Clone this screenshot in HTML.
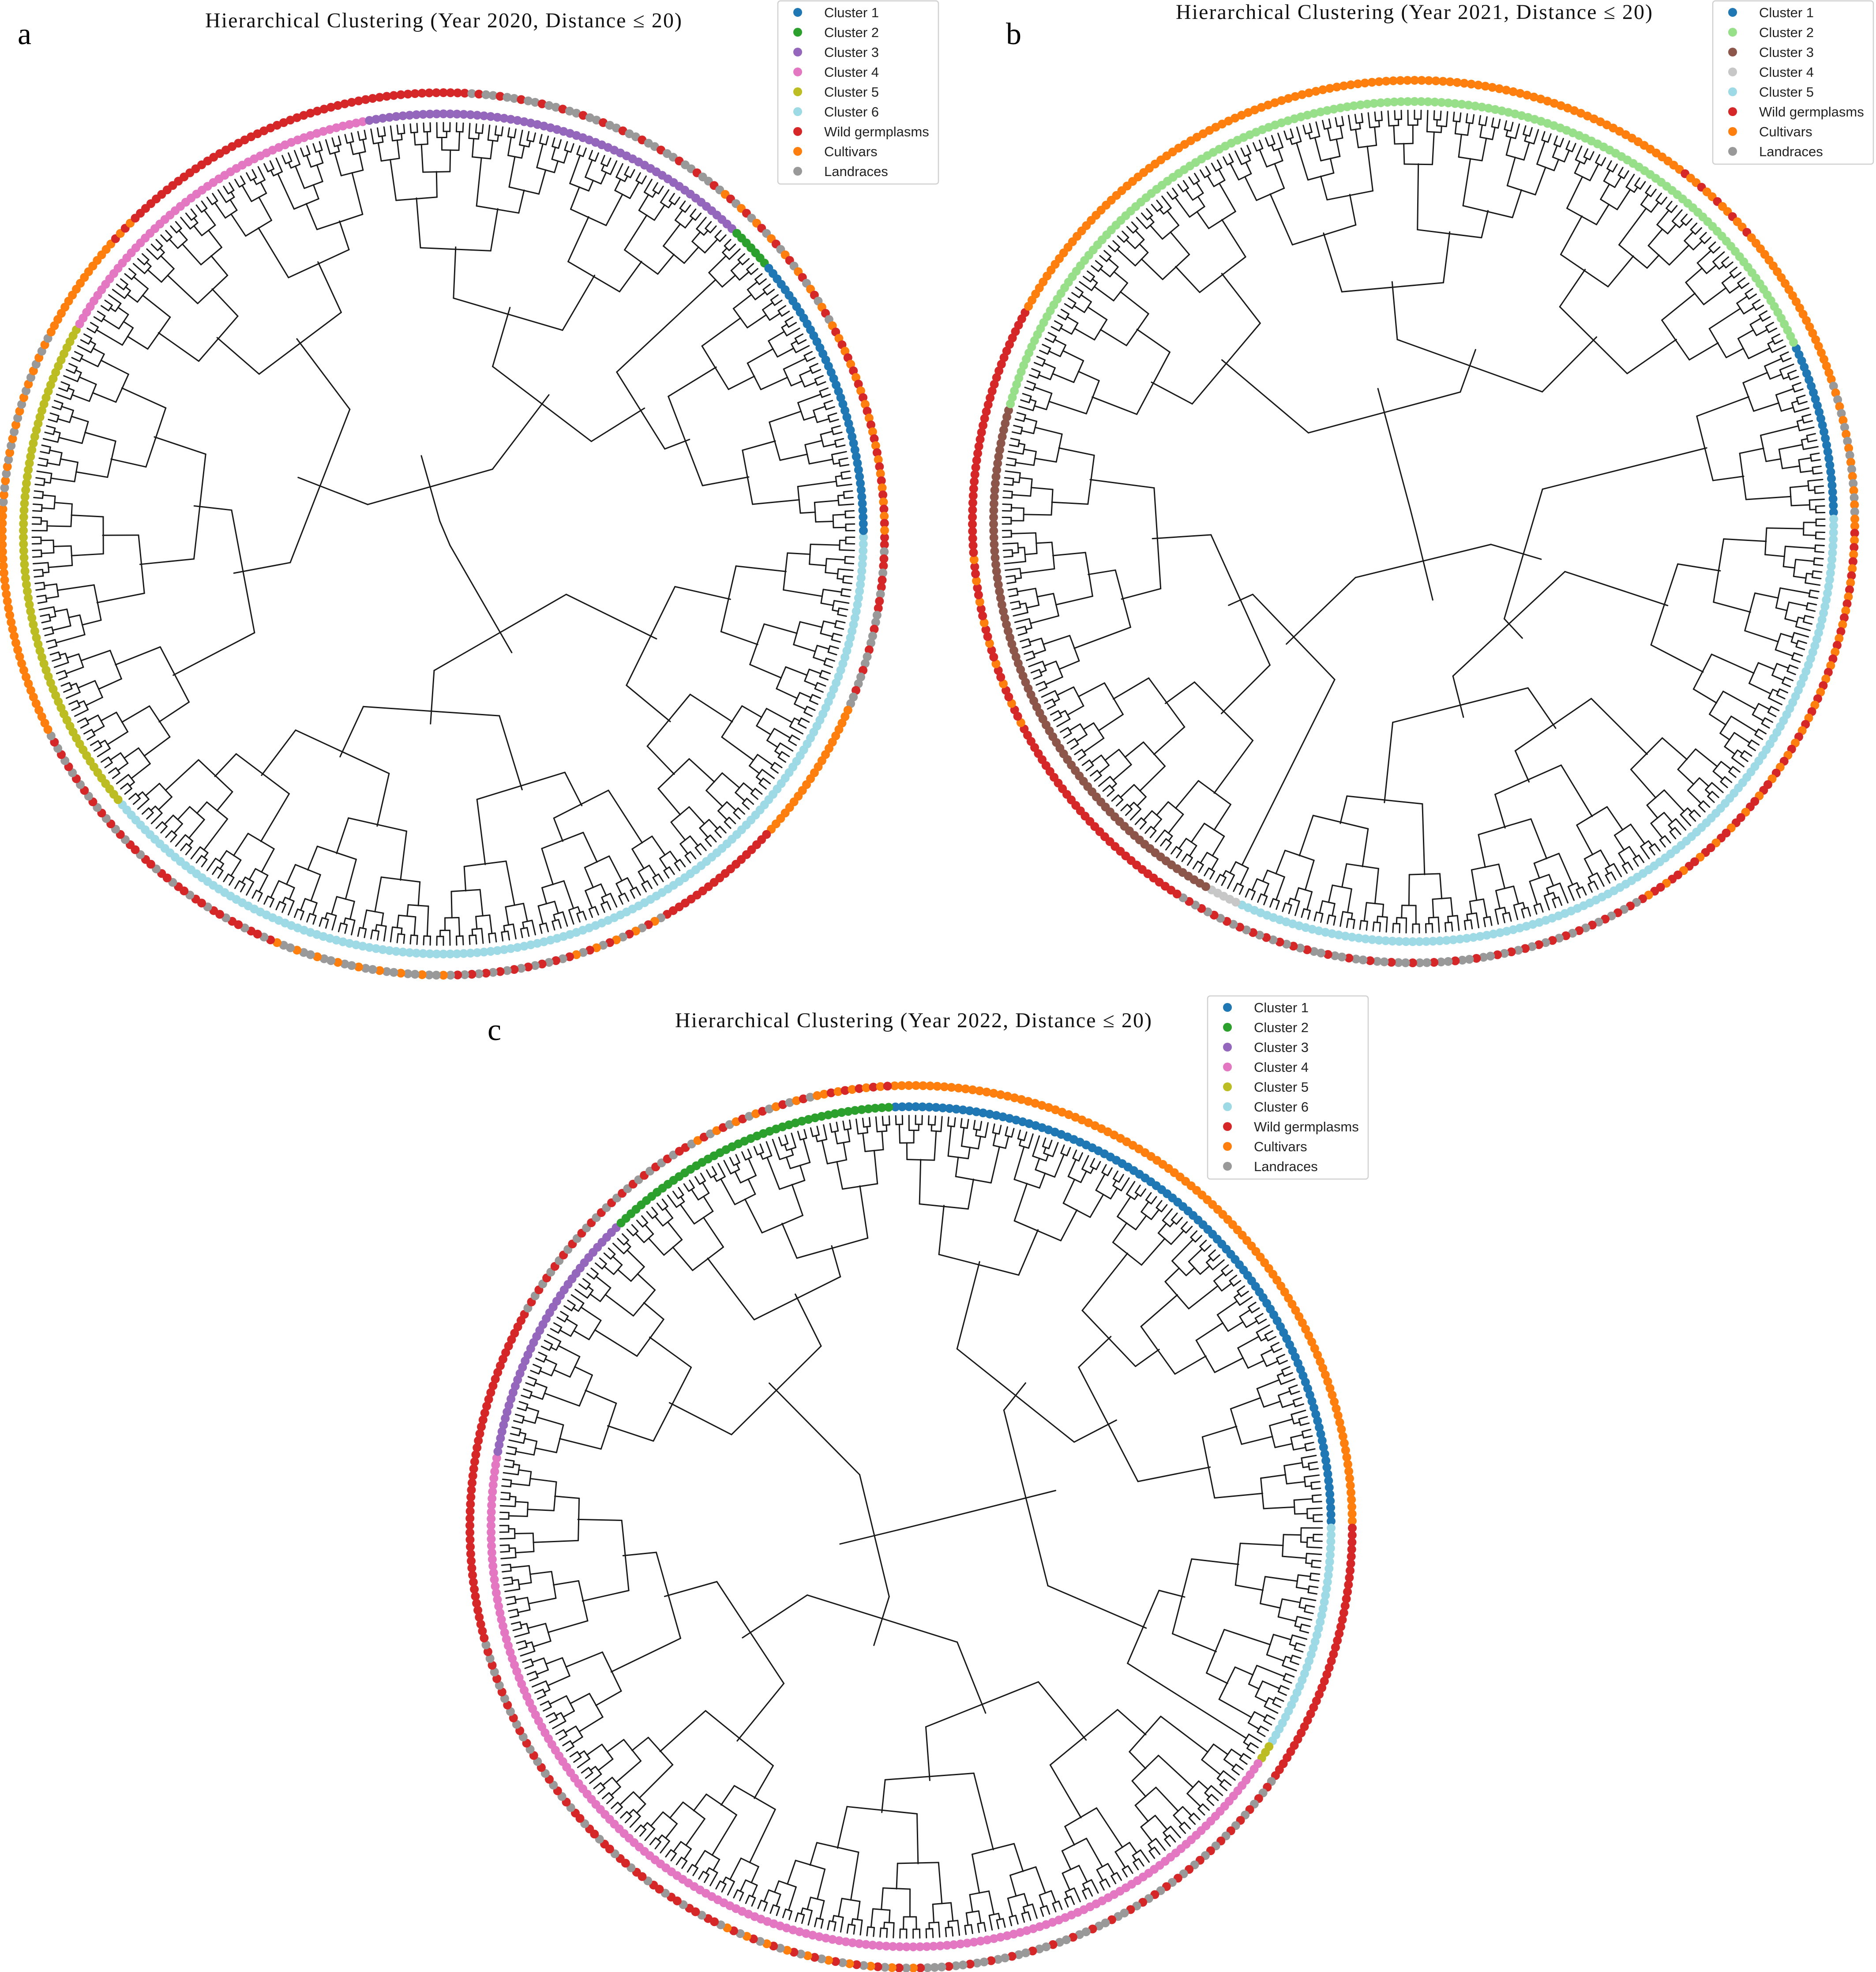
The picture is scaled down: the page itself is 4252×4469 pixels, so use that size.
<!DOCTYPE html>
<html><head><meta charset="utf-8"><style>
html,body{margin:0;padding:0;background:#fff}
svg{display:block}
</style></head><body>
<svg id="fig" xmlns="http://www.w3.org/2000/svg" width="4252" height="4469" viewBox="0 0 4252 4469">
<rect width="4252" height="4469" fill="#fff"/>
<g id="panels"></g>
</svg>
<script>
// ---- data ----
const panelLetters = ['a','b','c'];
const panelTitles = ['Hierarchical Clustering (Year 2020, Distance \u2264 20)','Hierarchical Clustering (Year 2021, Distance \u2264 20)','Hierarchical Clustering (Year 2022, Distance \u2264 20)'];
const legendA = ['Cluster 1','Cluster 2','Cluster 3','Cluster 4','Cluster 5','Cluster 6','Wild germplasms','Cultivars','Landraces'];
const legendB = ['Cluster 1','Cluster 2','Cluster 3','Cluster 4','Cluster 5','Wild germplasms','Cultivars','Landraces'];
const clusterColorsA = ['#1f77b4','#2ca02c','#9467bd','#e377c2','#bcbd22','#9edae5'];
const clusterColorsB = ['#1f77b4','#98df8a','#8c564b','#c7c7c7','#9edae5'];
const groupColors = {w:'#d62728', c:'#ff7f0e', l:'#999999'};
// cluster spans, clockwise from start angle: [clusterNumber, degrees]
const startAngles = [0, 24.8, 92.6];
const spansA = [[6,140.5],[5,69.7],[4,49.8],[3,54.2],[2,6.2],[1,40.6]];
const spansB = [[1,24.3],[5,115.5],[4,5],[3,76.3],[2,139.1]];
const spansC = [[1,92.6],[6,31.4],[5,3.2],[4,155.8],[3,35.6],[2,41.4]];
// accession group runs, clockwise from 0 deg: [pattern, degrees]
const groupsA = [['wwl',12],['lwl',12],['c',20],['w',18],['wlc',15],['lw',15],['lcl',25],['wlw',25],['wl',18],['c',30],['cl',25],['c',15],['cw',5],['w',50],['lwl',35],['wlc',25],['cw',30]];
const groupsB = [['cw',35],['wcw',25],['wl',20],['lwl',25],['lw',20],['w',30],['wwc',25],['w',35],['c',40],['c',60],['cwc',15],['c',20],['cl',20]];
const groupsC = [['w',35],['wl',25],['lwl',30],['lwc',30],['wlw',25],['wl',25],['w',45],['lw',30],['wlc',20],['cw',10],['c',95]];

const centers = [[1005,1210],[3204,1182],[2065,3460]];
const legendPos = [[1763,2,9],[3882,2,8],[2737,2257,9]];
const titlePos = [[1005,62],[3205,43],[2070,2328]];
const letterPos = [[40,100],[2280,100],[1105,2357]];
const spans = [spansA, spansB, spansC];
const groups = [groupsA, groupsB, groupsC];
const clusterColors = [clusterColorsA, clusterColorsB, clusterColorsA];
const legends = [legendA, legendB, legendA];

const N = 390, R_TIP = 932, R_CL = 952, R_OUT = 1000, DOT = 10;
const NS = 'http://www.w3.org/2000/svg';
const root = document.getElementById('panels');
function mk(tag, attrs, parent){const e=document.createElementNS(NS,tag);for(const k in attrs)e.setAttribute(k,attrs[k]);parent.appendChild(e);return e;}
function pt(cx,cy,r,deg){const a=deg*Math.PI/180;return [cx+r*Math.cos(a), cy-r*Math.sin(a)];}
function radiusFor(n){const f=Math.log(n)/Math.log(N);return 30+(R_TIP-12-30)*(1-Math.pow(f,2.2));}

panelLetters.forEach((L,p)=>{
  const g = mk('g',{},root);
  
  
  const [cx,cy]=centers[p];
  const step=360/N;
  const angleOf=i=>startAngles[p]-(i+0.5)*step;
  const tot=spans[p].reduce((s,x)=>s+x[1],0);
  const clusters=[];let idx=0;
  spans[p].forEach((s,k)=>{let n=Math.round(s[1]/tot*N);if(k===spans[p].length-1)n=N-idx;clusters.push({c:s[0],lo:idx,hi:idx+n});idx+=n;});
  const tree=mk('g',{fill:'none',stroke:'#1a1a1a','stroke-width':3,'stroke-linecap':'round'},g);
  
  
  const fr=[0.38,0.5,0.44,0.6,0.33,0.55,0.47];let fi=0;
  function link(a,b,r){
    [a,b].forEach(ch=>{const p1=pt(cx,cy,ch.r,ch.ang),p2=pt(cx,cy,r,ch.ang);
      const ln=mk('line',{x1:p1[0],y1:p1[1],x2:p2[0],y2:p2[1]},tree);
      
      });
    const s=pt(cx,cy,r,a.ang),e=pt(cx,cy,r,b.ang);
    const cl=mk('line',{x1:s[0],y1:s[1],x2:e[0],y2:e[1]},tree);
    
    
    return {ang:(a.ang+b.ang)/2,r:r,n:a.n+b.n};
  }
  function build(lo,hi){
    const n=hi-lo;
    if(n===1)return {ang:angleOf(lo),r:R_TIP,n:1};
    let m=lo+Math.max(1,Math.min(n-1,Math.round(n*fr[fi++%fr.length])));
    const a=build(lo,m),b=build(m,hi);
    return link(a,b,Math.min(radiusFor(n),a.r-6,b.r-6));
  }
  let nodes=clusters.map(c=>build(c.lo,c.hi));
  while(nodes.length>1){
    let best=0,bs=1e9;
    for(let i=0;i<nodes.length-1;i++){const s=nodes[i].n+nodes[i+1].n;if(s<bs){bs=s;best=i;}}
    const a=nodes[best],b=nodes[best+1];
    const r=Math.min(radiusFor(a.n+b.n),a.r-60,b.r-60);
    nodes.splice(best,2,link(a,b,Math.max(r,20)));
  }
  const cr=mk('g',{},g);
  
  
  clusters.forEach(c=>{for(let i=c.lo;i<c.hi;i++){const q=pt(cx,cy,R_CL,angleOf(i));
    const d=mk('circle',{cx:q[0],cy:q[1],r:DOT,fill:clusterColors[p][c.c-1]},cr);
    
    }});
  const gr=mk('g',{},g);
  
  
  const gt=groups[p].reduce((s,x)=>s+x[1],0);
  for(let i=0;i<N;i++){
    const ang=angleOf(i);
    let cw=((-ang)%360+360)%360; let acc=0,pat='c',off=0;
    for(const run of groups[p]){const d=run[1]/gt*360;if(cw<acc+d){pat=run[0];off=Math.floor((cw-acc)/step);break;}acc+=d;}
    const ch=pat[off%pat.length];
    const q=pt(cx,cy,R_OUT,ang);
    const d=mk('circle',{cx:q[0],cy:q[1],r:DOT,fill:groupColors[ch]},gr);
    
    
  }
  const t=mk('text',{x:titlePos[p][0],y:titlePos[p][1],'text-anchor':'middle','font-family':'"Liberation Serif",serif','font-size':48,textLength:1080,fill:'#111'},g);
  t.textContent=panelTitles[p];
  
  
  const lt=mk('text',{x:letterPos[p][0],y:letterPos[p][1],'font-family':'"Liberation Serif",serif','font-size':70,fill:'#000'},g);
  lt.textContent=L;
  
  
  const [lx,ly,ln]=legendPos[p];
  const lg=mk('g',{},g);
  
  
  mk('rect',{x:lx,y:ly,width:364,height:ln*45+10,rx:6,fill:'#fff',stroke:'#d0d0d0','stroke-width':2.5},lg);
  legends[p].forEach((lab,k)=>{
    const col=k<clusterColors[p].length?clusterColors[p][k]:[groupColors.w,groupColors.c,groupColors.l][k-clusterColors[p].length];
    const e=mk('g',{},lg);
    
    
    mk('circle',{cx:lx+45,cy:ly+26+k*45,r:10,fill:col},e);
    const tx=mk('text',{x:lx+105,y:ly+37+k*45,'font-family':'"Liberation Sans",sans-serif','font-size':31,fill:'#222'},e);
    tx.textContent=lab;
  });
});
</script>
</body></html>
